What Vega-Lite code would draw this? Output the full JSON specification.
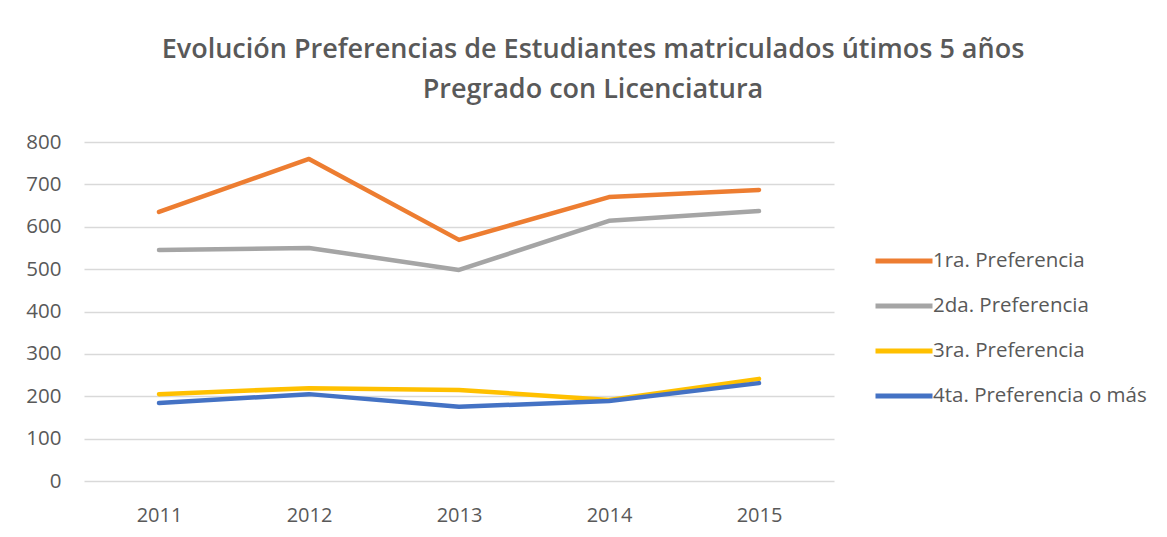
{
  "$schema": "https://vega.github.io/schema/vega-lite/v6.json",
  "width": 750,
  "height": 339,
  "autosize": {"type": "none"},
  "padding": {"left": 84, "top": 142, "right": 333, "bottom": 56},
  "background": "white",
  "title": {
    "text": ["Evolución Preferencias de Estudiantes matriculados útimos 5 años", "Pregrado con Licenciatura"],
    "font": "Open Sans",
    "fontSize": 27,
    "fontWeight": 600,
    "color": "#595959",
    "anchor": "middle",
    "dx": 134,
    "offset": 28,
    "lineHeight": 40
  },
  "data": {
    "values": [
      {"year": "2011", "serie": "1ra. Preferencia", "value": 635},
      {"year": "2012", "serie": "1ra. Preferencia", "value": 760},
      {"year": "2013", "serie": "1ra. Preferencia", "value": 569},
      {"year": "2014", "serie": "1ra. Preferencia", "value": 670},
      {"year": "2015", "serie": "1ra. Preferencia", "value": 687},
      {"year": "2011", "serie": "2da. Preferencia", "value": 545},
      {"year": "2012", "serie": "2da. Preferencia", "value": 550},
      {"year": "2013", "serie": "2da. Preferencia", "value": 498},
      {"year": "2014", "serie": "2da. Preferencia", "value": 614},
      {"year": "2015", "serie": "2da. Preferencia", "value": 637},
      {"year": "2011", "serie": "3ra. Preferencia", "value": 205},
      {"year": "2012", "serie": "3ra. Preferencia", "value": 219},
      {"year": "2013", "serie": "3ra. Preferencia", "value": 215},
      {"year": "2014", "serie": "3ra. Preferencia", "value": 191},
      {"year": "2015", "serie": "3ra. Preferencia", "value": 241},
      {"year": "2011", "serie": "4ta. Preferencia o más", "value": 184},
      {"year": "2012", "serie": "4ta. Preferencia o más", "value": 205},
      {"year": "2013", "serie": "4ta. Preferencia o más", "value": 175},
      {"year": "2014", "serie": "4ta. Preferencia o más", "value": 189},
      {"year": "2015", "serie": "4ta. Preferencia o más", "value": 231}
    ]
  },
  "mark": {"type": "line", "strokeWidth": 4.5, "strokeCap": "round", "strokeJoin": "round"},
  "encoding": {
    "x": {
      "field": "year", "type": "ordinal", "title": null,
      "scale": {"paddingInner": 0, "paddingOuter": 0.5},
      "axis": {"labelAngle": 0, "domain": false, "ticks": false, "labelPadding": 24, "labelFont": "Open Sans", "labelFontSize": 20, "labelColor": "#595959", "grid": false}
    },
    "y": {
      "field": "value", "type": "quantitative", "title": null,
      "scale": {"domain": [0, 800], "nice": false},
      "axis": {"values": [0,100,200,300,400,500,600,700,800], "domain": false, "ticks": false, "labelPadding": 23, "labelFont": "Open Sans", "labelFontSize": 20.5, "labelColor": "#595959", "gridColor": "#D9D9D9", "gridWidth": 1.5}
    },
    "color": {
      "field": "serie", "type": "nominal", "title": null,
      "scale": {"domain": ["1ra. Preferencia", "2da. Preferencia", "3ra. Preferencia", "4ta. Preferencia o más"], "range": ["#ED7D31", "#A5A5A5", "#FFC000", "#4472C4"]},
      "legend": {"orient": "none", "legendX": 789, "legendY": 88, "symbolType": "stroke", "symbolSize": 3249, "symbolStrokeWidth": 5, "labelFont": "Open Sans", "labelFontSize": 20.5, "labelColor": "#595959", "labelLimit": 400, "rowPadding": 3, "labelOffset": -2}
    }
  },
  "config": {"view": {"stroke": null}}
}
